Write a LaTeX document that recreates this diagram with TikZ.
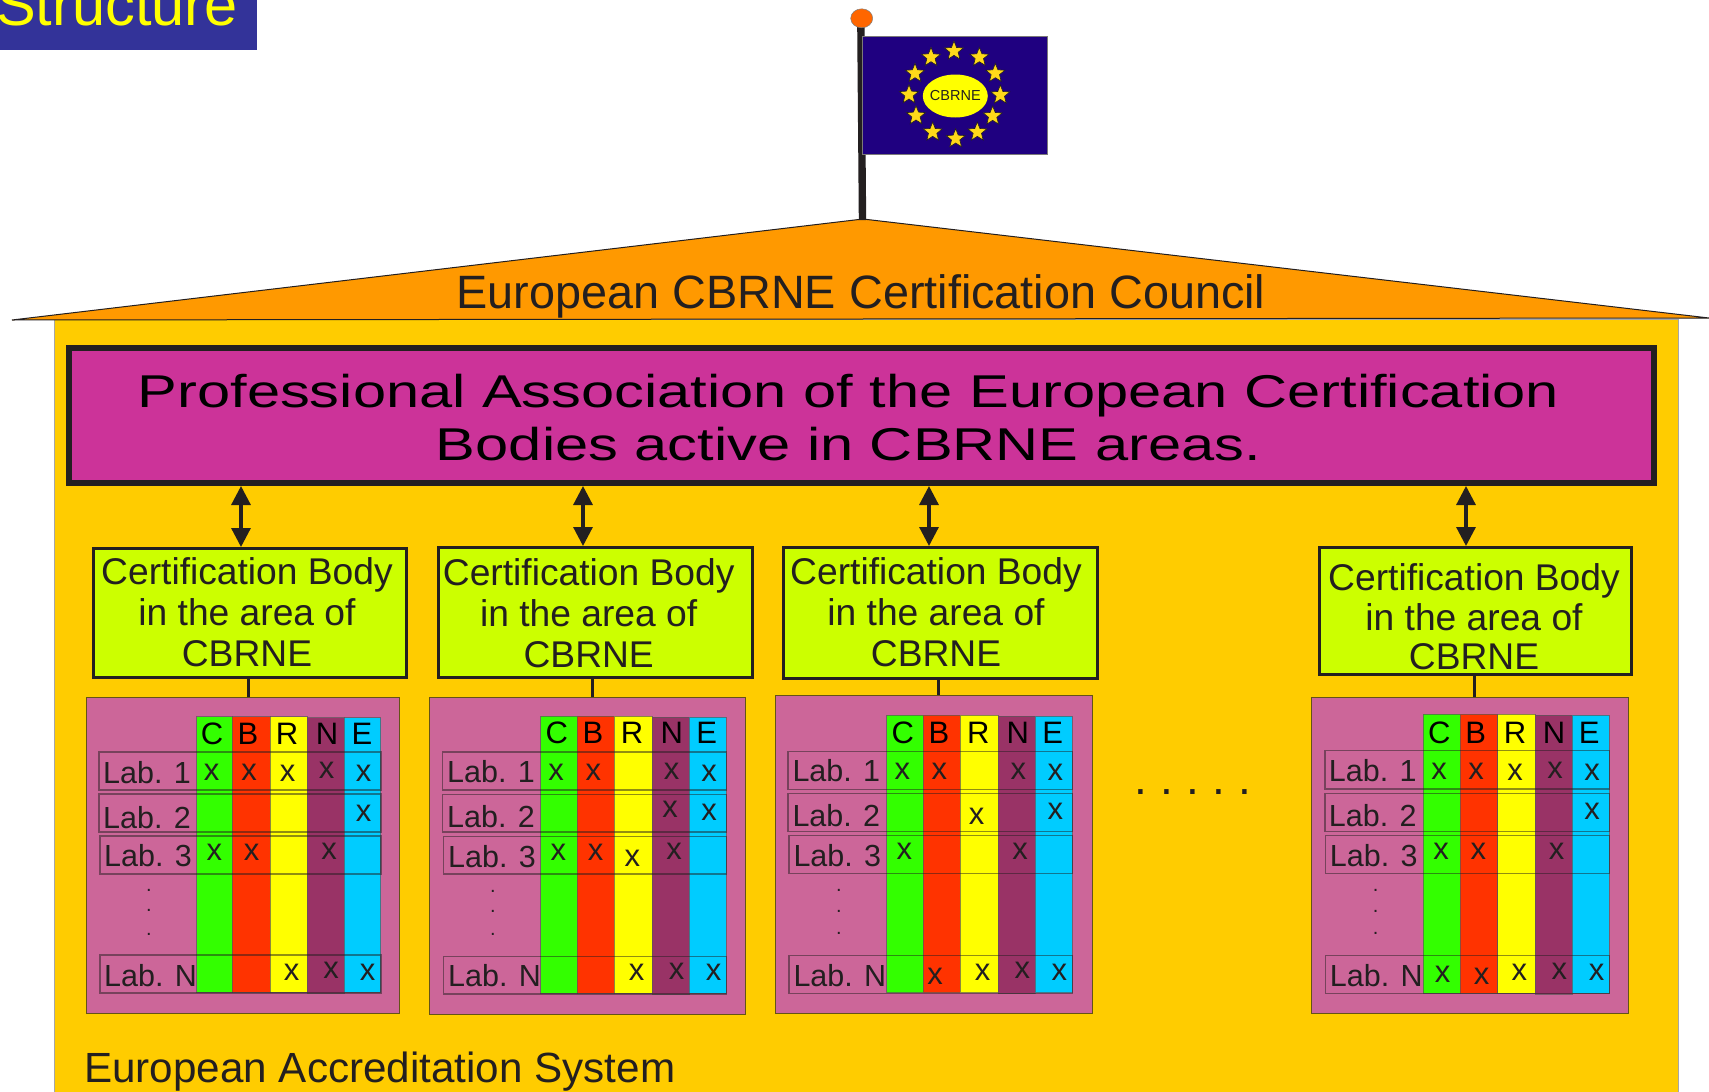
\documentclass[tikz,border=0pt]{standalone}
\usepackage{fontspec}
\setmainfont{Liberation Sans}
\newfontfamily\widefont[FakeStretch=1.296]{Liberation Sans}
\usetikzlibrary{arrows.meta,shapes.geometric}
\definecolor{ink}{HTML}{231F20}
\definecolor{roofc}{HTML}{FF9900}
\definecolor{housec}{HTML}{FFCC00}
\definecolor{assocc}{HTML}{CC3399}
\definecolor{bodyc}{HTML}{CCFF00}
\definecolor{panelc}{HTML}{CC6699}
\definecolor{colC}{HTML}{33FF00}
\definecolor{colB}{HTML}{FF3300}
\definecolor{colR}{HTML}{FFFF00}
\definecolor{colN}{HTML}{993366}
\definecolor{colE}{HTML}{00CCFF}
\definecolor{flagc}{HTML}{1F0080}
\definecolor{bannerc}{HTML}{333399}
\definecolor{ballc}{HTML}{FF6600}
\definecolor{starc}{HTML}{FFD91A}
\tikzset{
  bodybox/.style={draw=ink,line width=3pt,fill=bodyc,inner sep=0pt},
  panelbox/.style={draw=ink!70!housec,line width=1pt,fill=panelc,inner sep=0pt},
  bodytext/.style={text=ink,inner sep=0pt,align=center,font=\fontsize{37.2}{41}\selectfont},
  dbl/.style={draw=ink,line width=3.2pt,{Triangle[width=19pt,length=19pt]}-{Triangle[width=19pt,length=19pt]}},
  stub/.style={draw=ink,line width=3pt},
  colbar/.style={draw=ink!75,draw opacity=.7,line width=1pt},
  labrow/.style={draw=ink,draw opacity=.5,line width=1.5pt},
  labtext/.style={anchor=base west,inner sep=0pt,text=ink,font=\fontsize{30.5}{34}\selectfont},
  headtext/.style={anchor=base,inner sep=0pt,text=black,font=\fontsize{31}{34}\selectfont},
  xmark/.style={anchor=base,inner sep=0pt,text=ink,font=\fontsize{31}{34}\selectfont},
  dotmark/.style={anchor=base,inner sep=0pt,text=ink,font=\fontsize{20}{24}\selectfont},
  flagstar/.style={star,star points=5,star point ratio=2.3,minimum size=20pt,inner sep=0pt,fill=starc,draw=ink,line width=.6pt},
}
\newcount\mk
\newcommand{\xm}[2]{\global\advance\mk by 1 \node[xmark] (m\the\mk) at (#1,#2) {x};}
\newcommand{\dm}[2]{\global\advance\mk by 1 \node[dotmark] (m\the\mk) at (#1,#2) {.};}
\newcommand{\hd}[3]{\global\advance\mk by 1 \node[headtext] (m\the\mk) at (#1,#2) {#3};}
\newcommand{\lb}[3]{\global\advance\mk by 1 \node[labtext] (m\the\mk) at (#1,#2) {#3};}
% columns: x0..x5, top, bottom
\newcommand{\cbrnecols}[8]{%
  \draw[colbar,fill=colC] (#1,#7) rectangle (#2,#8);
  \draw[colbar,fill=colB] (#2,#7) rectangle (#3,#8);
  \draw[colbar,fill=colR] (#3,#7) rectangle (#4,#8);
  \draw[colbar,fill=colN] (#4,#7+1) rectangle (#5,#8+1);
  \draw[colbar,fill=colE] (#5,#7+1) rectangle (#6,#8);
}
\begin{document}
\begin{tikzpicture}[x=1pt,y=-1pt]
\useasboundingbox (0,0) rectangle (1709,1092);
\fill[white] (0,0) rectangle (1709,1092);
% banner
\fill[bannerc] (0,0) rectangle (257,50);
\node[anchor=base west,inner sep=0pt,text=colR,font=\fontsize{59.5}{60}\selectfont] (title) at (-4,25) {Structure};
% house and roof
\draw[draw=black!35,line width=1pt,fill=housec] (54,319) rectangle (1678,1100);
\draw[draw=ink,line width=1pt,fill=roofc] (12,320) -- (863,219) -- (1709,318) -- cycle;
\node[anchor=base,inner sep=0pt,text=ink,font=\fontsize{46.8}{50}\selectfont] (council) at (861,308) {European CBRNE Certification Council};
% flag
\fill[ink] (857.2,27) -- (864.5,27) -- (866.2,220) -- (858.8,220) -- cycle;
\node[ellipse,draw=black!50,line width=.5pt,fill=ballc,minimum width=22pt,minimum height=19pt,inner sep=0pt] (ball) at (861.7,18.3) {};
\draw[draw=ink!60,line width=1pt,fill=flagc] (862.7,36) rectangle (1047.7,154);
\node[ellipse,fill=colR,minimum width=65pt,minimum height=43pt,inner sep=0pt] (emblem) at (955.3,96) {};
\node[inner sep=0pt,text=ink,font=\fontsize{14.5}{16}\selectfont] (emblemtext) at (emblem.center) {CBRNE};
\foreach \n/\a/\b in {1/522/153,2/598/172,3/646/220,4/661/285,5/638/348,6/592/396,7/527/416,8/458/396,9/408/347,10/387/284,11/405/220,12/453/172}
  \node[flagstar] (st\n) at ({780+\a/3},{\b/3}) {};
% association
\node[draw=ink,line width=6pt,fill=assocc,inner sep=0pt,minimum width=1585pt,minimum height=135pt] (assoc) at (861.5,415.5) {};
\node[anchor=center,inner sep=0pt,text=black,align=center,font=\widefont\fontsize{46}{53}\selectfont] (assoctext) at (848.5,417.5) {Professional Association of the European Certification\\Bodies active in CBRNE areas.};
% certification bodies
\node[bodybox,minimum width=313pt,minimum height=129pt] (cb1) at (250,613) {};
\node[bodybox,minimum width=314pt,minimum height=130pt] (cb2) at (595.5,612.5) {};
\node[bodybox,minimum width=314pt,minimum height=131pt] (cb3) at (940.5,613) {};
\node[bodybox,minimum width=312pt,minimum height=127pt] (cb4) at (1475.5,611) {};
\node[bodytext] (cbt1) at (247,612) {Certification Body\\in the area of\\CBRNE};
\node[bodytext] (cbt2) at (588.7,613) {Certification Body\\in the area of\\CBRNE};
\node[bodytext] (cbt3) at (936,612) {Certification Body\\in the area of\\CBRNE};
\node[bodytext,font=\fontsize{37.2}{39.5}\selectfont] (cbt4) at (1474,617) {Certification Body\\in the area of\\CBRNE};
% arrows
\coordinate (a1) at (241,516);
\coordinate (a2) at (583,516);
\coordinate (a3) at (929,516);
\coordinate (a4) at (1466,516);
\draw[dbl] (assoc.south -| a1) -- (cb1.north -| a1);
\draw[dbl] (assoc.south -| a2) -- (cb2.north -| a2);
\draw[dbl] (assoc.south -| a3) -- (cb3.north -| a3);
\draw[dbl] (assoc.south -| a4) -- (cb4.north -| a4);
% panels
\node[panelbox,minimum width=313pt,minimum height=316pt] (p1) at (242.5,855) {};
\node[panelbox,minimum width=316pt,minimum height=317pt] (p2) at (587,855.5) {};
\node[panelbox,minimum width=317pt,minimum height=318pt] (p3) at (933.5,854) {};
\node[panelbox,minimum width=317pt,minimum height=316pt] (p4) at (1469.5,855) {};
\coordinate (s1) at (248,690);
\coordinate (s2) at (592,690);
\coordinate (s3) at (938,690);
\coordinate (s4) at (1474,690);
\draw[stub] (cb1.south -| s1) -- (p1.north -| s1);
\draw[stub] (cb2.south -| s2) -- (p2.north -| s2);
\draw[stub] (cb3.south -| s3) -- (p3.north -| s3);
\draw[stub] (cb4.south -| s4) -- (p4.north -| s4);
% ---- panel 1
\cbrnecols{196.7}{232.3}{270}{307}{344}{380.7}{716.7}{992}
\draw[labrow] (99,752) rectangle (381,790);
\draw[labrow] (99,794) rectangle (381,832);
\draw[labrow] (100,836) rectangle (381,874);
\draw[labrow] (100,955) rectangle (381,993);
\hd{212}{744}{C}\hd{248}{744}{B}\hd{287}{744}{R}\hd{327}{744}{N}\hd{362}{744}{E}
\lb{103}{783}{Lab. 1}\lb{103}{828}{Lab. 2}\lb{104}{866}{Lab. 3}\lb{104}{986}{Lab. N}
\dm{149}{891}\dm{149}{911}\dm{149}{935}
\xm{211.7}{780}\xm{249}{780}\xm{287.7}{781.7}\xm{326.7}{778.7}\xm{363.7}{781}
\xm{363.7}{821.7}
\xm{214.3}{860}\xm{251.7}{860.7}\xm{329}{859.3}
\xm{291.7}{980}\xm{331}{978.3}\xm{367.7}{980.7}
% ---- panel 2
\cbrnecols{540.7}{577}{614.3}{652.3}{689.3}{726}{716}{993.3}
\draw[labrow] (442.7,752) rectangle (726.7,790);
\draw[labrow] (442.7,794.3) rectangle (726.7,832);
\draw[labrow] (443.3,836.7) rectangle (726.7,874);
\draw[labrow] (443.3,956.3) rectangle (726.7,994);
\hd{556.7}{743}{C}\hd{593}{743}{B}\hd{632}{743}{R}\hd{671.7}{743}{N}\hd{706.7}{743}{E}
\lb{447}{782.3}{Lab. 1}\lb{447}{827.7}{Lab. 2}\lb{448}{867}{Lab. 3}\lb{448}{986.7}{Lab. N}
\dm{493}{892}\dm{493}{912.7}\dm{493}{935}
\xm{556}{780.7}\xm{593.3}{780.7}\xm{671.7}{779.3}\xm{709}{781.7}
\xm{670}{817.3}\xm{709}{820.7}
\xm{558.3}{860.7}\xm{595.7}{860.7}\xm{632.3}{866.7}\xm{674}{859.3}
\xm{636.7}{980.7}\xm{676.7}{979.3}\xm{713.7}{980.7}
% ---- panel 3
\cbrnecols{886.7}{923}{960.3}{998.3}{1035.3}{1072.3}{715}{992.7}
\draw[labrow] (788,751.3) rectangle (1072.7,789.3);
\draw[labrow] (788,793.7) rectangle (1072.7,831.3);
\draw[labrow] (789,835.7) rectangle (1072.7,873.3);
\draw[labrow] (789,955.7) rectangle (1072.7,993.3);
\hd{902.7}{743.3}{C}\hd{939}{743.3}{B}\hd{978.3}{743.3}{R}\hd{1017.7}{743.3}{N}\hd{1052.7}{743.3}{E}
\lb{792.3}{781.7}{Lab. 1}\lb{792.3}{826.7}{Lab. 2}\lb{793.3}{866}{Lab. 3}\lb{793.3}{986}{Lab. N}
\dm{839}{891}\dm{839}{912.7}\dm{839}{934.3}
\xm{902.3}{779.3}\xm{939.3}{779.3}\xm{1018.3}{779.3}\xm{1055.3}{780.7}
\xm{976.7}{824}\xm{1055.3}{819.3}
\xm{904.3}{859.3}\xm{1020}{859.3}
\xm{935}{984}\xm{982.7}{980}\xm{1022.3}{978.3}\xm{1059.3}{980}
% ---- panel 4
\cbrnecols{1423.3}{1460}{1497.7}{1535}{1572}{1609.3}{714.3}{993}
\draw[labrow] (1325,750.7) rectangle (1609.3,789);
\draw[labrow] (1325,793.3) rectangle (1609.3,831.3);
\draw[labrow] (1325.7,835.3) rectangle (1609.3,873.3);
\draw[labrow] (1325.7,955.7) rectangle (1609.3,993.3);
\hd{1439.3}{743.3}{C}\hd{1475.7}{743.3}{B}\hd{1515}{743.3}{R}\hd{1554}{743.3}{N}\hd{1589.3}{743.3}{E}
\lb{1328.7}{781.7}{Lab. 1}\lb{1328.7}{826.7}{Lab. 2}\lb{1329.7}{866}{Lab. 3}\lb{1329.7}{986}{Lab. N}
\dm{1375.7}{891}\dm{1375.7}{912.7}\dm{1375.7}{934.3}
\xm{1439}{779.3}\xm{1476}{779.3}\xm{1515}{780.7}\xm{1555}{778.3}\xm{1592}{780.7}
\xm{1592}{819.3}
\xm{1441}{859.3}\xm{1478.3}{859.3}\xm{1556.7}{859.3}
\xm{1442.7}{982.7}\xm{1481.7}{984}\xm{1519.3}{980}\xm{1559.3}{979}\xm{1596.7}{980}
% middle dots
\foreach \n/\x in {1/1141,2/1167,3/1193,4/1219,5/1245}
  \node[anchor=base,inner sep=0pt,text=ink,font=\fontsize{46}{50}\selectfont] (mid\n) at (\x,794.5) {.};
% footer
\node[anchor=base west,inner sep=0pt,text=ink,font=\fontsize{42.2}{46}\selectfont] (footer) at (84,1082) {European Accreditation System};
\end{tikzpicture}
\end{document}
